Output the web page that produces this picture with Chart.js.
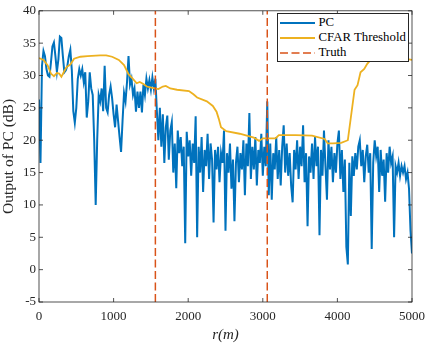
<!DOCTYPE html>
<html>
<head>
<meta charset="utf-8">
<script src="https://cdn.jsdelivr.net/npm/chart.js@4.4.1/dist/chart.umd.min.js"></script>
<style>
  html, body { margin: 0; padding: 0; background: #fff; }
  #wrap { position: relative; width: 432px; height: 343px; }
  #legend {
    position: absolute; left: 276.5px; top: 13px; width: 130px; height: 46px;
    border: 1px solid #262626; background: #fff; padding-top: 1px;
    font-family: 'Liberation Serif', 'Times New Roman', serif; font-size: 12.8px; color: #000;
  }
  #legend .row { height: 15px; line-height: 15px; display: flex; align-items: center; white-space: nowrap; }
  #legend svg { margin-left: 2.5px; margin-right: 3.5px; flex: none; }
</style>
</head>
<body>
<div id="wrap">
  <canvas id="chart" width="432" height="343"></canvas>
  <div id="legend">
    <div class="row"><svg width="35" height="4"><line x1="0" y1="2" x2="35" y2="2" stroke="#0072BD" stroke-width="1.8"/></svg>PC</div>
    <div class="row"><svg width="35" height="4"><line x1="0" y1="2" x2="35" y2="2" stroke="#EDB120" stroke-width="1.8"/></svg>CFAR Threshold</div>
    <div class="row"><svg width="35" height="4"><line x1="0" y1="2" x2="35" y2="2" stroke="#D95319" stroke-width="1.5" stroke-dasharray="8 3.5"/></svg>Truth</div>
  </div>
</div>
<script>
// ── Data ─────────────────────────────────────────────────────
const xTicks = [0, 1000, 2000, 3000, 4000, 5000];
const yTicks = [-5, 0, 5, 10, 15, 20, 25, 30, 35, 40];

// PC output, one sample every 20 m from 0 to 5000 m
const pcStep = 20;
const pcDb = [
  26.3, 16.5, 31.5, 33.8, 33.0, 31.0, 30.0, 29.8, 32.0, 34.5,
  35.1, 33.0, 30.6, 32.5, 36.0, 35.8, 33.0, 30.5, 30.8, 31.5,
  33.0, 34.0, 30.8, 24.5, 22.7, 25.0, 29.5, 31.0, 30.0, 31.0,
  29.0, 30.5, 23.5, 26.0, 30.5, 28.0, 27.0, 20.0, 10.0, 20.0,
  27.0, 26.0, 28.0, 24.5, 31.5, 25.0, 24.3, 27.0, 28.3, 26.5,
  24.0, 22.0, 25.5, 23.0, 20.5, 18.2, 23.0, 27.3, 26.0, 29.0,
  33.0, 28.6, 29.5, 27.0, 28.0, 24.4, 27.5, 25.0, 27.5, 24.3,
  28.6, 27.0, 29.5, 28.0, 29.3, 27.8, 29.7, 28.0, 29.5, 24.5,
  20.0, 25.0, 19.0, 24.0, 16.5, 22.0, 23.8, 17.0, 21.5, 22.8,
  15.0, 19.5, 12.6, 21.5, 18.0, 20.5, 16.0, 19.0, 4.1, 21.3,
  17.5, 20.0, 14.5, 19.5, 16.5, 23.7, 5.0, 19.0, 15.0, 20.5,
  12.0, 18.5, 16.0, 21.0, 14.0, 19.5, 17.0, 7.3, 18.5, 15.5,
  19.0, 13.5, 18.0, 16.5, 21.5, 6.0, 18.0, 15.0, 19.5, 12.5,
  17.0, 7.5, 16.5, 19.0, 13.5, 18.0, 15.5, 20.0, 11.5, 19.5,
  16.0, 24.2, 14.0, 19.0, 15.5, 20.5, 13.0, 18.5, 16.5, 21.0,
  14.5, 19.0, 16.0, 26.0, 11.5, 19.5, 10.8, 18.0, 15.5, 20.5,
  14.0, 18.5, 13.0, 19.0, 22.3, 15.0, 19.5, 14.5, 18.0, 13.0,
  10.4, 18.5, 15.5, 20.0, 14.0, 19.0, 16.0, 22.3, 13.5, 18.0,
  6.7, 17.5, 15.0, 19.5, 14.0, 20.5, 16.0, 19.0, 5.3, 18.5,
  14.5, 21.5, 16.0, 10.8, 20.0, 15.5, 19.0, 13.5, 18.0, 15.0,
  19.5, 21.5, 14.0, 18.5, 12.0, 17.0, 3.5, 0.8, 16.5, 8.3,
  17.5, 14.5, 18.0, 15.5, 19.0, 20.0, 16.0, 18.5, 13.5, 17.5,
  19.3, 15.0, 18.0, 3.2, 16.5, 20.0, 17.5, 19.0, 12.0, 18.5,
  14.5, 17.0, 10.5, 18.0, 15.0, 19.0, 16.5, 17.5, 5.0, 16.0,
  15.0, 16.5, 14.5, 16.0, 15.0, 16.0, 14.0, 15.0, 12.5, 6.0, 2.5
];

// CFAR threshold (smooth, sampled at its bends)
const cfarR = [
  0, 60, 115, 160, 200, 240, 270, 300, 340, 370, 420, 470, 555, 650, 820,
  900, 980, 1070, 1140, 1200, 1250, 1310, 1350, 1400, 1445, 1520, 1600, 1660,
  1700, 1760, 1850, 2010, 2070, 2120, 2250, 2330, 2380, 2410, 2440, 2510, 2690,
  2880, 2950, 3000, 3170, 3215, 3440, 3660, 3830, 3870, 3940, 4050, 4140, 4180,
  4230, 4270, 4310, 4360, 4400, 4450, 4500, 4600, 4700, 4780, 4900, 5000
];
const cfarDb = [
  32.7, 32.4, 31.6, 30.3, 29.9, 30.4, 30.3, 29.8, 30.7, 31.3, 31.7, 32.6, 32.9, 33.0, 33.1,
  33.1, 32.9, 32.4, 31.6, 30.2, 29.6, 28.8, 29.0, 28.7, 28.3, 28.1, 27.9, 28.3,
  28.4, 28.0, 27.8, 27.6, 27.1, 26.6, 26.0, 25.3, 24.4, 23.3, 22.0, 21.4, 21.0,
  20.4, 19.9, 20.3, 20.3, 20.8, 20.8, 20.7, 20.2, 19.5, 19.5, 19.6, 20.0, 23.5,
  27.8, 28.5, 30.5, 31.0, 31.8, 32.5, 33.2, 33.4, 33.2, 32.7, 32.6, 32.4
];

// true target ranges (m)
const truthR = [1560, 3060];

// ── Colours / fonts ──────────────────────────────────────────
const C_PC = '#0072BD', C_CFAR = '#EDB120', C_TRUTH = '#D95319', C_AX = '#262626';
const SERIF = "'Liberation Serif', 'Times New Roman', serif";

// ── MATLAB-style box with inward ticks ───────────────────────
const boxFrame = {
  id: 'boxFrame',
  afterDatasetsDraw(chart) {
    const { ctx, chartArea: a, scales: { x, y } } = chart;
    ctx.save();
    ctx.strokeStyle = C_AX;
    ctx.lineWidth = 0.8;
    ctx.strokeRect(a.left, a.top, a.right - a.left, a.bottom - a.top);
    ctx.beginPath();
    x.ticks.forEach(t => {
      const px = x.getPixelForValue(t.value);
      ctx.moveTo(px, a.bottom); ctx.lineTo(px, a.bottom - 4);
      ctx.moveTo(px, a.top);    ctx.lineTo(px, a.top + 4);
    });
    y.ticks.forEach(t => {
      const py = y.getPixelForValue(t.value);
      ctx.moveTo(a.left, py);  ctx.lineTo(a.left + 4, py);
      ctx.moveTo(a.right, py); ctx.lineTo(a.right - 4, py);
    });
    ctx.stroke();
    ctx.restore();
  }
};

const datasets = [
  {
    label: 'PC',
    data: pcDb.map((v, i) => ({ x: i * pcStep, y: v })),
    borderColor: C_PC, borderWidth: 2, order: 3,
  },
  {
    label: 'CFAR Threshold',
    data: cfarR.map((r, i) => ({ x: r, y: cfarDb[i] })),
    borderColor: C_CFAR, borderWidth: 1.8, order: 2,
  },
  ...truthR.map(r => ({
    label: 'Truth',
    data: [{ x: r, y: yTicks[0] }, { x: r, y: yTicks[yTicks.length - 1] }],
    borderColor: C_TRUTH, borderWidth: 1.5, borderDash: [8, 3.5], order: 1,
  })),
];

new Chart(document.getElementById('chart'), {
  type: 'line',
  data: { datasets },
  plugins: [boxFrame],
  options: {
    responsive: false,
    animation: false,
    layout: { padding: { top: 4, right: 14, left: 0, bottom: 0 } },
    elements: { point: { radius: 0 }, line: { tension: 0, fill: false } },
    plugins: { legend: { display: false }, tooltip: { enabled: false } },
    scales: {
      x: {
        type: 'linear',
        min: xTicks[0], max: xTicks[xTicks.length - 1],
        afterBuildTicks: s => { s.ticks = xTicks.map(v => ({ value: v })); },
        grid: { display: false, drawTicks: false },
        border: { display: false },
        ticks: {
          color: C_AX, font: { family: SERIF, size: 13 }, padding: 7, maxRotation: 0,
          callback: v => String(v),
        },
        title: {
          display: true, text: 'r(m)', color: C_AX,
          font: { family: SERIF, size: 15, style: 'italic', lineHeight: 1 },
          padding: 0,
        },
        afterFit: s => { s.height = 41; },
      },
      y: {
        type: 'linear',
        min: yTicks[0], max: yTicks[yTicks.length - 1],
        afterBuildTicks: s => { s.ticks = yTicks.map(v => ({ value: v })); },
        grid: { display: false, drawTicks: false },
        border: { display: false },
        ticks: { color: C_AX, font: { family: SERIF, size: 13 }, padding: 3, callback: v => String(v) },
        title: {
          display: true, text: 'Output of PC (dB)', color: C_AX,
          font: { family: SERIF, size: 15.5, lineHeight: 1.2 },
          padding: 0,
        },
        afterFit: s => { s.width = 39; },
      },
    },
  },
});
</script>
</body>
</html>
